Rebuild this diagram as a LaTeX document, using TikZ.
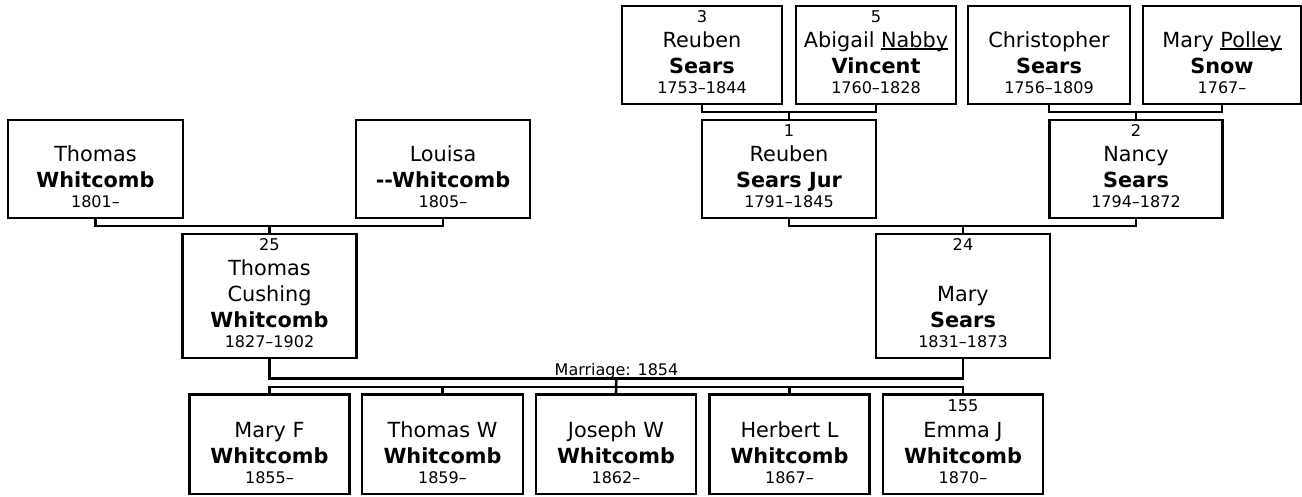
\documentclass[tikz,border=0pt]{standalone}
\usepackage{fontspec}
\setmainfont{DejaVu Sans}
\usetikzlibrary{calc}
\newsavebox\ulbox
\newcommand\ulw[1]{\sbox\ulbox{#1}\rlap{\rule[-2.3pt]{\wd\ulbox}{1.3pt}}\usebox\ulbox}
\newcommand\namefont{\fontsize{20.8}{24}\selectfont}
\newcommand\datefont{\fontsize{16}{19}\selectfont}
\newcommand\numfont{\fontsize{16.2}{19}\selectfont}
\newcommand\ifnonempty[2]{\if\relax\detokenize{#1}\relax\else #2\fi}
% #1 box, #2 number, #3 upper given line, #4 given line, #5 surname, #6 dates
\newcommand\ptext[6]{%
  \ifnonempty{#2}{\node[txt, font=\numfont] at ([yshift=-16.8pt]#1.north) {#2};}%
  \ifnonempty{#3}{\node[txt, font=\namefont] at ([yshift=82.7pt]#1.south) {#3};}%
  \node[txt, font=\namefont] at ([yshift=56.6pt]#1.south) {#4};%
  \node[txt, font=\namefont\bfseries] at ([yshift=30.8pt]#1.south) {#5};%
  \node[txt, font=\datefont] at ([yshift=10.8pt]#1.south) {#6};%
}
\begin{document}
\begin{tikzpicture}[x=1pt,y=-1pt,
  pbox/.style={draw=black, line width=2.6pt, inner sep=0pt, outer sep=0pt, rectangle, fill=white},
  conn/.style={draw=black, line width=2.6pt},
  txt/.style={anchor=base, inner sep=0pt, text=black}]
\useasboundingbox (0,0) rectangle (1302,496);

% generation 0
\node[pbox, minimum width=160pt, minimum height=98pt] (r3) at (702,55) {};
\node[pbox, minimum width=160pt, minimum height=98pt] (a5) at (876,55) {};
\node[pbox, minimum width=162pt, minimum height=98pt] (cs) at (1049,55) {};
\node[pbox, minimum width=158pt, minimum height=98pt] (mp) at (1222,55) {};
% generation 1
\node[pbox, minimum width=175pt, minimum height=98pt] (thw) at (95.5,169) {};
\node[pbox, minimum width=174pt, minimum height=98pt] (lou) at (443,169) {};
\node[pbox, minimum width=174pt, minimum height=98pt] (r1) at (789,169) {};
\node[pbox, minimum width=173pt, minimum height=98pt] (nan) at (1136,169) {};
% generation 2
\node[pbox, minimum width=174pt, minimum height=124pt] (tcw) at (269.5,296) {};
\node[pbox, minimum width=174pt, minimum height=124pt] (ms) at (963,296) {};
% generation 3
\node[pbox, minimum width=160pt, minimum height=99.5pt] (mf) at (269.5,444.25) {};
\node[pbox, minimum width=161pt, minimum height=99.5pt] (tw) at (442.5,444.25) {};
\node[pbox, minimum width=160pt, minimum height=99.5pt] (jw) at (616,444.25) {};
\node[pbox, minimum width=160pt, minimum height=99.5pt] (hl) at (789.5,444.25) {};
\node[pbox, minimum width=160pt, minimum height=99.5pt] (ej) at (963,444.25) {};

% connectors
\draw[conn] (r3.south) -- ++(0,8) -| (a5.south);
\draw[conn] (r1.north) -- ++(0,-8);
\draw[conn] (cs.south) -- ++(0,8) -| (mp.south);
\draw[conn] (nan.north) -- ++(0,-8);
\draw[conn] (thw.south) -- ++(0,8) -| (lou.south);
\draw[conn] (tcw.north) -- ++(0,-8);
\draw[conn] (r1.south) -- ++(0,8) -| (nan.south);
\draw[conn] (ms.north) -- ++(0,-8);
\draw[conn] (tcw.south) -- ++(0,20.5) -| (ms.south);
\coordinate (mm) at ($(tcw.south)!0.5!(ms.south)+(0,20.5)$);
\draw[conn] (mf.north) -- ++(0,-7.5) -| (ej.north);
\draw[conn] (tw.north) -- ++(0,-7.5);
\draw[conn] (hl.north) -- ++(0,-7.5);
\draw[conn] (jw.north) -- (mm);
\node[txt, font=\datefont] (mlab) at (616.5,375) {Marriage: 1854};

% texts
\ptext{r3}{3}{}{Reuben}{Sears}{1753–1844}
\ptext{a5}{5}{}{Abigail \ulw{Nabby}}{Vincent}{1760–1828}
\ptext{cs}{}{}{Christopher}{Sears}{1756–1809}
\ptext{mp}{}{}{Mary \ulw{Polley}}{Snow}{1767–}
\ptext{thw}{}{}{Thomas}{Whitcomb}{1801–}
\ptext{lou}{}{}{Louisa}{-{}-Whitcomb}{1805–}
\ptext{r1}{1}{}{Reuben}{Sears Jur}{1791–1845}
\ptext{nan}{2}{}{Nancy}{Sears}{1794–1872}
\ptext{tcw}{25}{Thomas}{Cushing}{Whitcomb}{1827–1902}
\ptext{ms}{24}{}{Mary}{Sears}{1831–1873}
\ptext{mf}{}{}{Mary F}{Whitcomb}{1855–}
\ptext{tw}{}{}{Thomas W}{Whitcomb}{1859–}
\ptext{jw}{}{}{Joseph W}{Whitcomb}{1862–}
\ptext{hl}{}{}{Herbert L}{Whitcomb}{1867–}
\ptext{ej}{155}{}{Emma J}{Whitcomb}{1870–}
\end{tikzpicture}
\end{document}
